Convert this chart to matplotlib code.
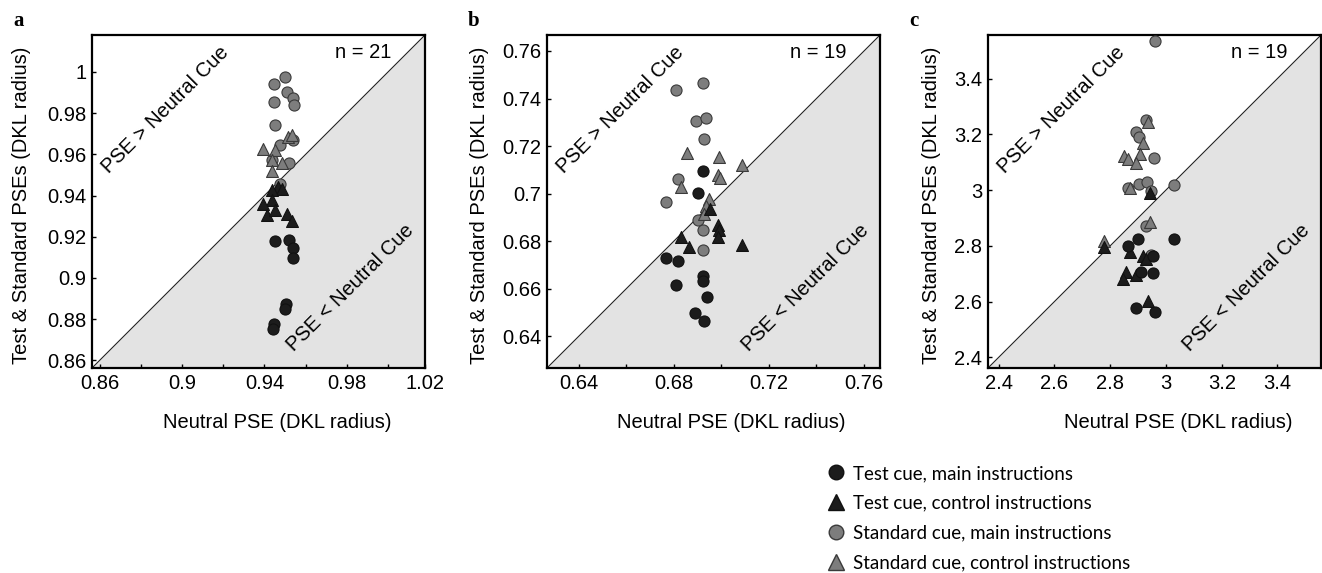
import numpy as np
import matplotlib.pyplot as plt
from matplotlib.lines import Line2D

plt.rcParams['font.family'] = ['Liberation Sans', 'DejaVu Sans']

# panel a  (n = 21)
a_std_main_x = [0.950, 0.9444, 0.9508, 0.9537, 0.9541, 0.9448, 0.9452, 0.9476, 0.954, 0.9521, 0.9436, 0.9476]
a_std_main_y = [0.9976, 0.9943, 0.9903, 0.9875, 0.9838, 0.9854, 0.9744, 0.9644, 0.967, 0.9558, 0.9571, 0.9455]
a_std_ctrl_x = [0.9395, 0.9452, 0.9436, 0.9484, 0.9436, 0.9512, 0.9532]
a_std_ctrl_y = [0.9628, 0.962, 0.957, 0.956, 0.952, 0.9684, 0.9692]
a_test_ctrl_x = [0.9468, 0.9484, 0.9436, 0.9436, 0.9395, 0.9411, 0.9452, 0.9508, 0.9532]
a_test_ctrl_y = [0.9442, 0.9434, 0.9426, 0.9377, 0.9361, 0.9304, 0.9328, 0.9312, 0.9277]
a_test_main_x = [0.9452, 0.9517, 0.9537, 0.9537, 0.9505, 0.950, 0.9444, 0.9440]
a_test_main_y = [0.9179, 0.9186, 0.9147, 0.9099, 0.8872, 0.8851, 0.8778, 0.8754]

# panel b  (n = 19)
b_std_main_x = [0.6808, 0.6922, 0.6894, 0.6936, 0.6929, 0.6817, 0.6769, 0.6901, 0.6922, 0.6922]
b_std_main_y = [0.7436, 0.7464, 0.7306, 0.7317, 0.7229, 0.7061, 0.6966, 0.689, 0.6847, 0.6764]
b_std_ctrl_x = [0.6855, 0.6991, 0.6831, 0.6984, 0.6994, 0.7086, 0.695, 0.6936, 0.6929]
b_std_ctrl_y = [0.717, 0.7152, 0.703, 0.7079, 0.7065, 0.7121, 0.6977, 0.6949, 0.6914]
b_test_ctrl_x = [0.6831, 0.6863, 0.6984, 0.6991, 0.6988, 0.7086, 0.6953]
b_test_ctrl_y = [0.6819, 0.6774, 0.6868, 0.6848, 0.6816, 0.6785, 0.6935]
b_test_main_x = [0.6922, 0.6901, 0.6769, 0.6817, 0.6808, 0.6922, 0.6922, 0.6938, 0.6891, 0.6929]
b_test_main_y = [0.7096, 0.7002, 0.6728, 0.6715, 0.6618, 0.6655, 0.6634, 0.6567, 0.650, 0.6466]

# panel c  (n = 19)
c_std_main_x = [2.962, 2.929, 2.891, 2.903, 2.956, 2.863, 2.905, 2.932, 2.947, 3.030, 2.929, 2.947]
c_std_main_y = [3.535, 3.252, 3.207, 3.191, 3.114, 3.008, 3.022, 3.028, 2.998, 3.018, 2.870, 2.768]
c_std_ctrl_x = [2.935, 2.917, 2.848, 2.863, 2.907, 2.893, 2.872, 2.943, 2.777]
c_std_ctrl_y = [3.243, 3.169, 3.121, 3.111, 3.129, 3.097, 3.006, 2.887, 2.819]
c_test_ctrl_x = [2.944, 2.779, 2.872, 2.917, 2.929, 2.857, 2.845, 2.893, 2.935]
c_test_ctrl_y = [2.988, 2.795, 2.777, 2.765, 2.753, 2.706, 2.682, 2.694, 2.601]
c_test_main_x = [2.901, 3.030, 2.863, 2.953, 2.911, 2.955, 2.891, 2.962]
c_test_main_y = [2.825, 2.823, 2.801, 2.765, 2.708, 2.703, 2.577, 2.562]

panels = [
    dict(letter='a', n=21, lim=(0.8563, 1.0179),
         xticks=[0.86, 0.88, 0.90, 0.92, 0.94, 0.96, 0.98, 1.00, 1.0179],
         xlabels=['0.86', '', '0.9', '', '0.94', '', '0.98', '', '1.02'],
         yticks=[0.86, 0.88, 0.90, 0.92, 0.94, 0.96, 0.98, 1.00],
         ylabels=['0.86', '0.88', '0.9', '0.92', '0.94', '0.96', '0.98', '1'],
         data=(a_std_main_x, a_std_main_y, a_std_ctrl_x, a_std_ctrl_y,
               a_test_ctrl_x, a_test_ctrl_y, a_test_main_x, a_test_main_y),
         left=92, ylab_x=-0.183, xlab_x=0.555),
    dict(letter='b', n=19, lim=(0.6267, 0.7667),
         xticks=[0.64, 0.66, 0.68, 0.70, 0.72, 0.74, 0.76],
         xlabels=['0.64', '', '0.68', '', '0.72', '', '0.76'],
         yticks=[0.64, 0.66, 0.68, 0.70, 0.72, 0.74, 0.76],
         ylabels=['0.64', '0.66', '0.68', '0.7', '0.72', '0.74', '0.76'],
         data=(b_std_main_x, b_std_main_y, b_std_ctrl_x, b_std_ctrl_y,
               b_test_ctrl_x, b_test_ctrl_y, b_test_main_x, b_test_main_y),
         left=547, ylab_x=-0.174, xlab_x=0.553),
    dict(letter='c', n=19, lim=(2.362, 3.556),
         xticks=[2.4, 2.6, 2.8, 3.0, 3.2, 3.4],
         xlabels=['2.4', '2.6', '2.8', '3', '3.2', '3.4'],
         yticks=[2.4, 2.6, 2.8, 3.0, 3.2, 3.4],
         ylabels=['2.4', '2.6', '2.8', '3', '3.2', '3.4'],
         data=(c_std_main_x, c_std_main_y, c_std_ctrl_x, c_std_ctrl_y,
               c_test_ctrl_x, c_test_ctrl_y, c_test_main_x, c_test_main_y),
         left=988, ylab_x=-0.141, xlab_x=0.57),
]

W, H = 1322, 573
fig = plt.figure(figsize=(W / 100, H / 100), dpi=100)

dark = '#1c1c1c'
grey = '#7d7d7d'
ms = 64
fs = 14.5

for p in panels:
    ax = fig.add_axes([p['left'] / W, (H - 368) / H, 333 / W, 333 / H])
    lo, hi = p['lim']
    ax.fill_between([lo, hi], [lo, lo], [lo, hi], color='#e3e3e3', lw=0, zorder=0)
    ax.plot([lo, hi], [lo, hi], color='#222222', lw=0.8, zorder=1)
    sx, sy, scx, scy, tcx, tcy, tx, ty = p['data']
    ax.scatter(sx, sy, s=ms, marker='o', c=grey, edgecolors='#3a3a3a', linewidths=0.8, zorder=3)
    ax.scatter(scx, scy, s=ms * 1.15, marker='^', c=grey, edgecolors='#3a3a3a', linewidths=0.8, zorder=3)
    ax.scatter(tcx, tcy, s=ms * 1.15, marker='^', c=dark, edgecolors='#111111', linewidths=0.8, zorder=4)
    ax.scatter(tx, ty, s=ms, marker='o', c=dark, edgecolors='#111111', linewidths=0.8, zorder=4)
    ax.set_xlim(lo, hi)
    ax.set_ylim(lo, hi)
    ax.set_xticks(p['xticks'])
    ax.set_xticklabels(p['xlabels'])
    ax.set_yticks(p['yticks'])
    ax.set_yticklabels(p['ylabels'])
    ax.tick_params(direction='in', length=3, width=1, labelsize=fs, pad=4)
    for s in ax.spines.values():
        s.set_linewidth(1.6)
    ax.set_xlabel('Neutral PSE (DKL radius)', fontsize=fs)
    ax.set_ylabel('Test & Standard PSEs (DKL radius)', fontsize=fs)
    ax.xaxis.set_label_coords(p['xlab_x'], -0.135)
    ax.yaxis.set_label_coords(p['ylab_x'], 0.49)
    ax.text(0.815, 0.947, 'n = %d' % p['n'], transform=ax.transAxes,
            ha='center', va='center', fontsize=fs)
    ax.text(0.22, 0.775, 'PSE > Neutral Cue', transform=ax.transAxes, rotation=45,
            ha='center', va='center', fontsize=fs, rotation_mode='anchor')
    ax.text(0.775, 0.24, 'PSE < Neutral Cue', transform=ax.transAxes, rotation=45,
            ha='center', va='center', fontsize=fs, rotation_mode='anchor')
    fig.text((p['left'] - 79) / W, 1 - 26 / H, p['letter'], fontsize=15,
             fontweight='bold', family='Liberation Serif', va='baseline')

handles = [
    Line2D([], [], ls='', marker='o', ms=10.5, mfc=dark, mec='#111111'),
    Line2D([], [], ls='', marker='^', ms=11.5, mfc=dark, mec='#111111'),
    Line2D([], [], ls='', marker='o', ms=10.5, mfc=grey, mec='#3a3a3a'),
    Line2D([], [], ls='', marker='^', ms=11.5, mfc=grey, mec='#3a3a3a'),
]
labels = ['Test cue, main instructions', 'Test cue, control instructions',
          'Standard cue, main instructions', 'Standard cue, control instructions']
fig.legend(handles, labels, loc='upper left', bbox_to_anchor=(828 / W, 1 - 465 / H),
           frameon=False, prop={'family': 'Lato', 'size': 13.5}, handlelength=0.9,
           handletextpad=0.45, labelspacing=0.68, borderpad=0, borderaxespad=0)

fig.savefig('out.png', dpi=100)
